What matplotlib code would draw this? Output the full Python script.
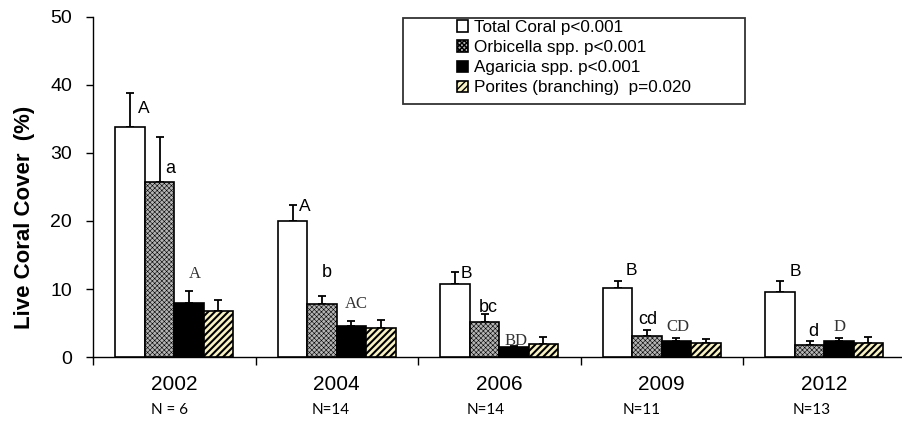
import matplotlib
matplotlib.use('Agg')
import matplotlib.pyplot as plt
import numpy as np
from matplotlib.patches import Rectangle
from matplotlib.transforms import blended_transform_factory

# data (mean % cover and upper error)
years = ['2002', '2004', '2006', '2009', '2012']
n_labels = ['N = 6', 'N=14', 'N=14', 'N=11', 'N=13']
total = [33.8, 20.0, 10.8, 10.2, 9.6]
total_se = [5.0, 2.4, 1.7, 1.0, 1.6]
orbicella = [25.7, 7.8, 5.1, 3.1, 1.8]
orbicella_se = [6.7, 1.2, 1.2, 0.9, 0.6]
agaricia = [7.9, 4.5, 1.4, 2.4, 2.4]
agaricia_se = [1.8, 0.8, 0.2, 0.4, 0.4]
porites = [6.8, 4.3, 1.9, 2.1, 2.1]
porites_se = [1.6, 1.1, 1.0, 0.5, 0.9]

total_letters = ['A', 'A', 'B', 'B', 'B']
orb_letters = ['a', 'b', 'bc', 'cd', 'd']
aga_letters = ['A', 'AC', 'BD', 'CD', 'D']

legend_labels = ['Total Coral p<0.001', 'Orbicella spp. p<0.001',
                 'Agaricia spp. p<0.001', 'Porites (branching)  p=0.020']

# letter offsets from the top of the error bar (pixels: right, down)
total_off = [(14, 15), (12, 2), (11, 1), (13.5, -10), (15.5, -9)]
orb_off = [(10.5, 32), (5, -23), (3.5, -7), (1, -10), (3.5, -9)]
aga_off = [(5.5, -17), (5, -17), (2.5, -5), (1, -11), (1, -11)]

W, H = 902, 421
fig = plt.figure(figsize=(W / 100, H / 100), dpi=100)
ax = fig.add_axes([93 / W, 64 / H, 5 * 162.5 / W, 340 / H])

x = np.arange(len(years)) + 0.5
w = 0.1815

series = [
    (total, total_se, dict(facecolor='white', hatch=None), 1.0),
    (orbicella, orbicella_se, dict(facecolor='#b4b4b4', hatch='xxxxxxx'), 0.4),
    (agaricia, agaricia_se, dict(facecolor='black', hatch=None), 1.0),
    (porites, porites_se, dict(facecolor='#f8f2c4', hatch='/////'), 1.5),
]

handles = []
for i, (vals, se, style, hlw) in enumerate(series):
    xs = x + (i - 1.5) * w
    bars = ax.bar(xs, vals, w, edgecolor='black', linewidth=1.2, zorder=3, **style)
    for b in bars:
        if hasattr(b, 'set_hatch_linewidth'):
            b.set_hatch_linewidth(hlw)
    ax.errorbar(xs, vals, yerr=[np.zeros(len(vals)), se], fmt='none',
                ecolor='black', elinewidth=1.3, capsize=3, capthick=1.3, zorder=2)
    handles.append(bars)

def put_letters(letters, vals, se, offs, i, family, color, size):
    xs = x + (i - 1.5) * w
    for xx, v, s, lab, (dx, dy) in zip(xs, vals, se, letters, offs):
        ax.annotate(lab, xy=(xx, v + s), xytext=(dx * 0.72, -dy * 0.72),
                    textcoords='offset points', ha='center', va='center',
                    fontsize=size, family=family, color=color, zorder=5)

put_letters(total_letters, total, total_se, total_off, 0, 'Liberation Sans', 'black', 12.5)
put_letters(orb_letters, orbicella, orbicella_se, orb_off, 1, 'Liberation Sans', 'black', 13)
put_letters(aga_letters, agaricia, agaricia_se, aga_off, 2, 'Liberation Serif', '#333333', 12)

ax.set_xlim(0, 5)
ax.set_ylim(0, 50)
ax.set_yticks([0, 10, 20, 30, 40, 50])
ax.set_xticks(np.arange(0, 6))
ax.set_xticklabels([])
ax.spines['top'].set_visible(False)
ax.spines['right'].set_visible(False)
for s in ['left', 'bottom']:
    ax.spines[s].set_linewidth(1.0)
ax.tick_params(axis='y', length=5, width=1, pad=10, labelsize=14)
ax.tick_params(axis='x', length=6, width=1)
for t in ax.get_yticklabels():
    t.set_family('Liberation Sans')

trans = blended_transform_factory(ax.transData, ax.transAxes)
for xx, yr in zip(x, years):
    ax.text(xx, -27 / 340, yr, transform=trans, ha='center', va='center',
            fontsize=15, family='Liberation Sans')
n_shift = [-5, -6.5, -14, -20, -13]
for xx, lab, sh in zip(x, n_labels, n_shift):
    ax.text(xx + sh / 162.5, -53 / 340, lab, transform=trans, ha='center',
            va='center', fontsize=11, family='Lato')

fig.text(25 / W, 1 - 217 / H, 'Live Coral Cover  (%)', rotation=90,
         ha='center', va='center', fontsize=16, fontweight='bold',
         family='Liberation Sans')

fig.patches.append(Rectangle((403 / W, 1 - 104 / H), (745 - 403) / W, 86 / H,
                             transform=fig.transFigure, fill=False,
                             edgecolor='#333333', linewidth=1.3))
leg = fig.legend(handles, legend_labels, loc='upper left',
                 bbox_to_anchor=(457 / W, 1 - 20 / H), frameon=False,
                 prop={'family': 'Liberation Sans', 'size': 12.3},
                 handlelength=0.65, handleheight=0.65, handletextpad=0.35,
                 labelspacing=0.3, borderpad=0, borderaxespad=0)

fig.savefig('out.png', dpi=100)
